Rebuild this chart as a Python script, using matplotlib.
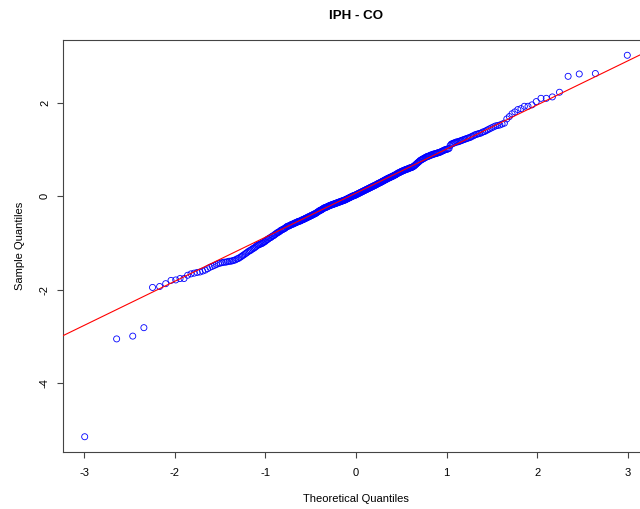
import matplotlib
matplotlib.use('Agg')
import matplotlib.pyplot as plt
import numpy as np
from statistics import NormalDist

plt.rcParams['font.family'] = ['Liberation Sans', 'DejaVu Sans']

title = 'IPH - CO'
x_label = 'Theoretical Quantiles'
y_label = 'Sample Quantiles'
x_ticks = [-3, -2, -1, 0, 1, 2, 3]
y_ticks = [-4, -2, 0, 2]

# sample values (sorted), lower tail first
sample_low = [-5.14, -3.05, -2.99, -2.81, -1.95, -1.93, -1.87, -1.80, -1.79, -1.76,
              -1.76, -1.69, -1.66, -1.645, -1.63, -1.62, -1.60, -1.58, -1.55, -1.52,
              -1.50, -1.48, -1.46, -1.44, -1.43, -1.42, -1.41, -1.41, -1.40, -1.39,
              -1.39, -1.38, -1.37, -1.36, -1.34, -1.33, -1.31, -1.29, -1.27, -1.25,
              -1.23, -1.21, -1.19, -1.17, -1.16, -1.14, -1.12, -1.11, -1.09, -1.07,
              -1.05, -1.04, -1.03, -1.02, -1.01, -1.00, -0.98, -0.97, -0.95]
sample_mid_low = [-0.93, -0.92, -0.90, -0.89, -0.88, -0.86, -0.85, -0.84, -0.82, -0.81,
                  -0.79, -0.78, -0.77, -0.76, -0.74, -0.73, -0.72, -0.71, -0.70,
                  -0.69, -0.68, -0.66, -0.65, -0.64, -0.64, -0.63, -0.62, -0.61, -0.60,
                  -0.60, -0.59, -0.58, -0.57, -0.57, -0.56, -0.55, -0.54, -0.54, -0.53,
                  -0.53, -0.52, -0.51,
                  -0.50, -0.50, -0.49, -0.48, -0.47, -0.47, -0.46, -0.45, -0.44, -0.44,
                  -0.43, -0.42, -0.41, -0.41, -0.40, -0.39, -0.38, -0.38, -0.37, -0.36,
                  -0.35, -0.34, -0.33, -0.32, -0.31,
                  -0.30, -0.30, -0.29, -0.28, -0.27, -0.26, -0.25, -0.25, -0.24, -0.24,
                  -0.23, -0.22, -0.22, -0.21, -0.20, -0.20, -0.19, -0.19, -0.18, -0.18,
                  -0.17, -0.17, -0.16, -0.16, -0.15, -0.15, -0.14, -0.14,
                  -0.13, -0.13, -0.12, -0.12, -0.11, -0.11, -0.10, -0.10, -0.09, -0.09,
                  -0.08, -0.08, -0.07, -0.06, -0.06, -0.05, -0.04, -0.04, -0.03, -0.02,
                  -0.02, -0.01, 0.00, 0.00, 0.01, 0.01, 0.02, 0.02, 0.03]
sample_mid_high = [0.04, 0.04, 0.05, 0.06, 0.06, 0.07, 0.08, 0.08, 0.09, 0.10,
                   0.10, 0.11, 0.12, 0.12, 0.13, 0.14, 0.14, 0.15, 0.16, 0.16,
                   0.17, 0.18, 0.18, 0.19, 0.20, 0.20, 0.21, 0.22, 0.22,
                   0.23, 0.24, 0.24, 0.25, 0.26, 0.27, 0.27, 0.28, 0.29, 0.29,
                   0.30, 0.31, 0.32, 0.32, 0.33, 0.34, 0.35, 0.35, 0.36, 0.37,
                   0.38, 0.38, 0.39, 0.40, 0.40, 0.41, 0.42, 0.42,
                   0.43, 0.44, 0.45, 0.45, 0.46, 0.47, 0.48, 0.49, 0.50, 0.50,
                   0.51, 0.52, 0.53, 0.53, 0.54, 0.55, 0.55, 0.56, 0.57, 0.57,
                   0.58, 0.58, 0.59, 0.60, 0.60,
                   0.61, 0.61, 0.62, 0.63, 0.64, 0.65, 0.67, 0.68, 0.70, 0.71,
                   0.73, 0.74, 0.76, 0.77, 0.78, 0.79, 0.80, 0.81, 0.82, 0.83,
                   0.84, 0.85, 0.85]
sample_high = [0.86, 0.87, 0.88, 0.88, 0.89, 0.90, 0.90, 0.91, 0.91, 0.92,
               0.93, 0.93, 0.94, 0.95, 0.96, 0.97, 0.98, 0.99, 1.00,
               1.00, 1.01, 1.02, 1.08, 1.11, 1.12, 1.13, 1.14, 1.15, 1.16,
               1.16, 1.17, 1.18, 1.19, 1.20, 1.21,
               1.22, 1.23, 1.24, 1.25, 1.26, 1.28, 1.29, 1.31, 1.32, 1.33,
               1.34, 1.35, 1.37,
               1.38, 1.40, 1.42, 1.44, 1.46, 1.48, 1.50, 1.51, 1.52, 1.54,
               1.56, 1.65, 1.70, 1.76, 1.80, 1.85, 1.87, 1.92, 1.92, 1.95,
               2.02, 2.09, 2.09, 2.12, 2.22, 2.56, 2.61, 2.62, 3.01]

y = np.sort(np.array(sample_low + sample_mid_low + sample_mid_high + sample_high))
n = len(y)

# theoretical quantiles like R's qqnorm (ppoints)
a = 3 / 8 if n <= 10 else 0.5
p = (np.arange(1, n + 1) - a) / (n + 1 - 2 * a)
nd = NormalDist()
theo = np.array([nd.inv_cdf(v) for v in p])

# qqline through the quartiles
q_y = np.quantile(y, [0.25, 0.75])
q_x = np.array([nd.inv_cdf(0.25), nd.inv_cdf(0.75)])
slope = (q_y[1] - q_y[0]) / (q_x[1] - q_x[0])
intercept = q_y[0] - slope * q_x[0]

fig = plt.figure(figsize=(6.4, 5.09), dpi=100)
ax = fig.add_axes([63 / 640, 57 / 509, 586 / 640, 412 / 509])

ax.scatter(theo, y, s=19, facecolors='none', edgecolors='#0000ff', linewidths=0.6, zorder=2)
ax.axline((0, intercept), slope=slope, color='#ff0000', lw=0.8, zorder=3)

xr = theo.max() - theo.min()
yr = y.max() - y.min()
ax.set_xlim(theo.min() - 0.04 * xr, theo.max() + 0.04 * xr)
ax.set_ylim(y.min() - 0.04 * yr, y.max() + 0.04 * yr)

ax.set_xticks(x_ticks)
ax.set_xticklabels([str(t) for t in x_ticks], fontsize=8)
ax.set_yticks(y_ticks)
ax.set_yticklabels([str(t) for t in y_ticks], fontsize=8, rotation=90, va='center')

for s in ax.spines.values():
    s.set_color('#444444')
    s.set_linewidth(0.8)
ax.tick_params(direction='out', length=4.3, width=0.8, color='#444444', labelcolor='black')
ax.tick_params(axis='x', pad=7.5)
ax.tick_params(axis='y', pad=5.1)

ax.set_xlabel(x_label, fontsize=8, labelpad=11.5)
ax.set_ylabel(y_label, fontsize=8, labelpad=11.1)
fig.text(ax.get_position().x0 + ax.get_position().width / 2, 1 - 16 / 509, title,
         ha='center', va='center', fontsize=9.6, fontweight='bold')

plt.savefig('out.png', dpi=100)
plt.close()
